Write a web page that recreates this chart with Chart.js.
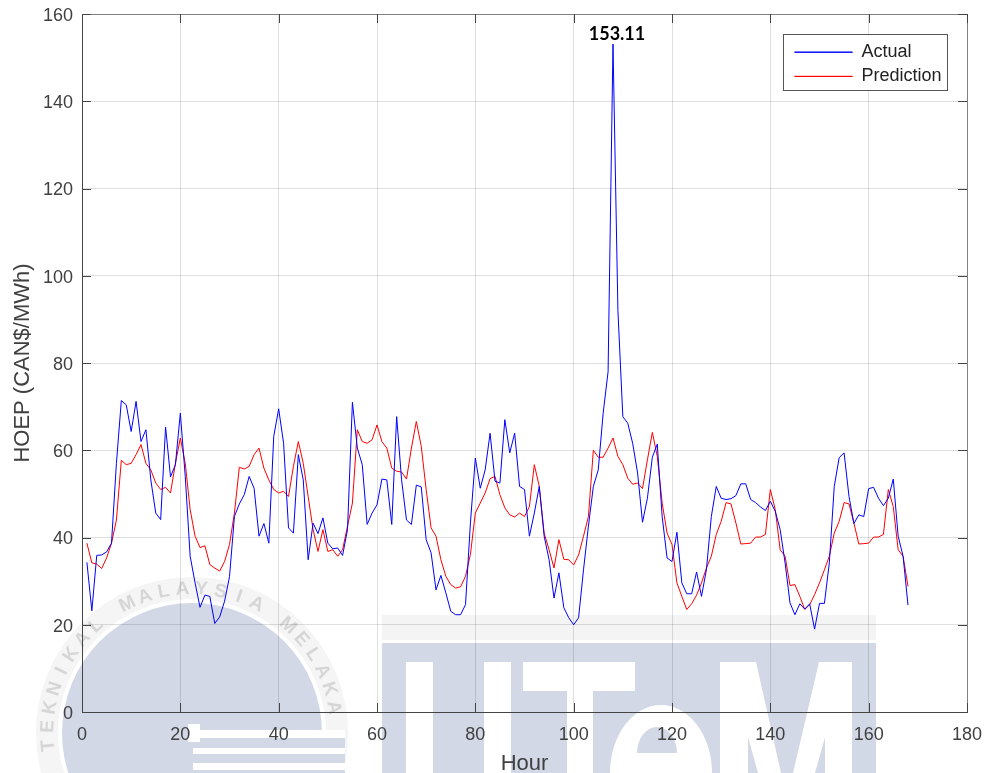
<!DOCTYPE html>
<html>
<head>
<meta charset="utf-8">
<title>HOEP</title>
<style>
  html, body { margin: 0; padding: 0; background: #fff; }
  canvas { display: block; }
</style>
<script src="https://cdn.jsdelivr.net/npm/chart.js@4/dist/chart.umd.min.js"></script>
</head>
<body>
<canvas id="chart" width="985" height="773"></canvas>
<script>
const actual = [
  34.3, 23.2, 35.9, 36, 36.7, 38.7, 57, 71.4, 70.4, 64.3,
  71.2, 62, 64.7, 53.2, 45.6, 44.1, 65.3, 53.9, 56.7, 68.5,
  54, 35.7, 29.6, 24, 26.8, 26.5, 20.3, 21.8, 25.4, 31,
  44.8, 47.7, 49.8, 54, 51.3, 40.3, 43.2, 38.7, 63.2, 69.5,
  61.6, 42.2, 41, 59, 53.2, 34.9, 43.3, 40.9, 44.5, 38.7,
  37.4, 37.6, 35.9, 41.8, 71, 60.5, 56.7, 43, 45.6, 47.5,
  53.4, 53.2, 43, 67.7, 53.2, 44, 43, 52, 51.6, 39.5,
  36.5, 28, 31.3, 27.3, 23.1, 22.3, 22.3, 24.6, 43.3, 58.2,
  51.3, 55.5, 63.9, 52.9, 52.5, 67, 59.4, 63.9, 51.7, 51,
  40.3, 45.6, 51.7, 40.3, 34.9, 26.1, 31.9, 23.9, 21.6, 20,
  21.6, 32.6, 42.6, 51.7, 55.5, 68.5, 78, 153.11, 92, 67.7,
  66.2, 61.6, 54.8, 43.5, 49, 58.4, 61.4, 44.8, 35.3, 34.5,
  41.2, 29.6, 27.1, 27.1, 32.1, 26.5, 32.6, 44.8, 51.7, 49,
  48.7, 48.9, 49.6, 52.3, 52.3, 48.7, 48, 47, 46.2, 48.3,
  46, 41.8, 34.2, 25, 22.3, 24.8, 23.6, 24.8, 19, 24.9,
  24.9, 34.2, 51.7, 58.3, 59.4, 49.4, 43.2, 45.2, 44.8, 51.2,
  51.5, 49, 47.3, 49, 53.4, 40.3, 35.7, 24.5,
];
const prediction = [
  38.7, 34.2, 33.9, 32.9, 35.3, 38.7, 44, 57.7, 56.7, 57,
  59, 61.3, 57, 55.5, 52.5, 51, 51.5, 50.2, 57, 62.8,
  57, 46.4, 40.3, 37.7, 38.1, 33.8, 33, 32.3, 34.5, 38.4,
  45.6, 56.1, 55.7, 56.3, 59, 60.5, 55.9, 53.2, 51, 50.2,
  50.6, 49.4, 56.3, 62, 57, 49.4, 41.8, 36.8, 41.8, 36.8,
  37.2, 35.7, 37.2, 42.6, 47.9, 64.7, 62, 61.6, 62.4, 65.8,
  62, 60.5, 55.9, 55.2, 55, 53.4, 60.5, 66.6, 60.9, 51,
  42.2, 40.3, 34.9, 31.1, 29.2, 28.4, 28.7, 31.1, 36.1, 45.6,
  47.9, 50.2, 53.5, 54, 49.8, 46.8, 45.2, 44.7, 45.6, 44.8,
  47.1, 56.7, 51.7, 41, 37.2, 33, 39.5, 35, 34.9, 33.7,
  36, 40.3, 44.8, 60, 58.4, 58.4, 60.5, 62.8, 58.6, 56.7,
  53.6, 52.2, 52.5, 51.2, 57.8, 64.1, 58.6, 47.9, 41, 38.4,
  29.6, 26.5, 23.5, 24.8, 26.8, 29.6, 33, 35.7, 40.7, 43.7,
  48, 47.7, 43.3, 38.5, 38.6, 38.7, 40.1, 40.1, 40.7, 51,
  46.4, 37.2, 35.7, 29, 29.2, 26.5, 23.5, 24.6, 26.9, 29.6,
  32.6, 35.7, 41, 43.7, 48, 47.7, 43.3, 38.5, 38.6, 38.7,
  40.1, 40.1, 40.7, 51, 47.1, 37.2, 35.7, 28.8,
];
const hours = actual.map((_, i) => i + 1);
const peakHour = 108;
const peakValue = 153.11;
const peakLabel = '153.11';
const sealText = 'TEKNIKAL MALAYSIA MELAKA';

const TEXT = '#404040';
const PALE_BLUE = '#d3d8e6';
const FONT = '"Liberation Sans", Arial, sans-serif';

// university watermark behind the whole figure
function drawWatermark(ctx) {
  const cx = 192;
  const cy = 733;

  ctx.fillStyle = '#f5f5f6';
  ctx.beginPath();
  ctx.arc(cx, cy, 156, 0, Math.PI * 2);
  ctx.fill();
  ctx.fillStyle = '#fff';
  ctx.beginPath();
  ctx.arc(cx, cy, 134, 0, Math.PI * 2);
  ctx.fill();
  ctx.fillStyle = PALE_BLUE;
  ctx.beginPath();
  ctx.arc(cx, cy, 130, 0, Math.PI * 2);
  ctx.fill();

  ctx.fillStyle = '#d6d6d7';
  ctx.font = 'bold 19px ' + FONT;
  ctx.textAlign = 'center';
  ctx.textBaseline = 'middle';
  [...sealText].forEach((ch, i) => {
    const a = (-95 + i * 7.6) * Math.PI / 180;
    ctx.save();
    ctx.translate(cx + 144 * Math.sin(a), cy - 144 * Math.cos(a));
    ctx.rotate(a);
    ctx.fillText(ch, 0, 0);
    ctx.restore();
  });

  ctx.fillStyle = PALE_BLUE;
  ctx.fillRect(193, 738, 152, 35);
  ctx.fillStyle = '#fff';
  ctx.fillRect(188, 724, 12, 18);
  ctx.fillRect(193, 730, 152, 8);
  ctx.fillRect(193, 748, 152, 6);
  ctx.fillRect(193, 763, 152, 7);

  ctx.fillStyle = '#f4f4f5';
  ctx.fillRect(382, 615, 494, 25);
  ctx.fillStyle = PALE_BLUE;
  ctx.fillRect(382, 643, 494, 130);

  ctx.fillStyle = '#fff';
  ctx.fillRect(406, 662, 27, 111);
  ctx.fillRect(484, 662, 27, 111);
  ctx.fillRect(523, 662, 112, 29);
  ctx.fillRect(567, 691, 26, 82);
  ctx.beginPath();
  ctx.ellipse(661, 773, 51, 68, 0, 0, Math.PI * 2);
  ctx.fill();
  ctx.fillRect(720, 662, 132, 111);

  ctx.fillStyle = PALE_BLUE;
  ctx.beginPath();
  ctx.ellipse(657, 753, 20, 26, 0, Math.PI, Math.PI * 2);
  ctx.fill();
  ctx.beginPath();
  ctx.moveTo(756, 662);
  ctx.lineTo(819, 662);
  ctx.lineTo(793, 773);
  ctx.lineTo(781, 773);
  ctx.closePath();
  ctx.fill();
  ctx.beginPath();
  ctx.moveTo(748, 737);
  ctx.lineTo(758, 773);
  ctx.lineTo(748, 773);
  ctx.closePath();
  ctx.fill();
  ctx.beginPath();
  ctx.moveTo(825, 737);
  ctx.lineTo(825, 773);
  ctx.lineTo(815, 773);
  ctx.closePath();
  ctx.fill();
}

const figurePlugin = {
  id: 'figure',
  beforeDraw(chart) {
    const ctx = chart.ctx;
    ctx.save();
    ctx.fillStyle = '#fff';
    ctx.fillRect(0, 0, chart.width, chart.height);
    drawWatermark(ctx);
    ctx.restore();
  },
  afterLayout(chart) {
    // y tick labels sit a little below their grid lines in the original
    chart.scales.y.getLabelItems().forEach((item) => {
      item.options.translation[1] += 2;
    });

    // the legend sits in the top right corner with a white, framed box
    const legend = chart.legend;
    legend.left = 788.3;
    legend.right = legend.left + legend.width;
    legend.top = 37;
    legend.bottom = legend.top + legend.height;
    if (!legend.framed) {
      const drawLegend = legend.draw;
      legend.draw = function () {
        const ctx = chart.ctx;
        ctx.save();
        ctx.fillStyle = '#fff';
        ctx.fillRect(783.5, 34.5, 164, 56);
        ctx.strokeStyle = '#555';
        ctx.lineWidth = 1;
        ctx.strokeRect(783.5, 34.5, 164, 56);
        ctx.restore();
        drawLegend.call(this);
      };
      legend.framed = true;
    }
  },
  afterDatasetsDraw(chart) {
    const ctx = chart.ctx;
    const { left, right, top, bottom } = chart.chartArea;
    const { x, y } = chart.scales;

    ctx.save();
    // top and right edges of the box
    ctx.strokeStyle = '#808080';
    ctx.lineWidth = 1;
    ctx.beginPath();
    ctx.moveTo(left, top + 0.5);
    ctx.lineTo(right + 0.5, top + 0.5);
    ctx.lineTo(right + 0.5, bottom);
    ctx.stroke();

    // inward ticks on all four sides
    ctx.strokeStyle = '#444';
    ctx.beginPath();
    x.ticks.forEach((t) => {
      const px = Math.round(x.getPixelForValue(t.value)) + 0.5;
      ctx.moveTo(px, bottom);
      ctx.lineTo(px, bottom - 9);
      ctx.moveTo(px, top);
      ctx.lineTo(px, top + 9);
    });
    y.ticks.forEach((t) => {
      const py = Math.round(y.getPixelForValue(t.value)) + 0.5;
      ctx.moveTo(left, py);
      ctx.lineTo(left + 9, py);
      ctx.moveTo(right, py);
      ctx.lineTo(right - 9, py);
    });
    ctx.stroke();

    ctx.fillStyle = '#000';
    ctx.font = 'bold 18px Lato, sans-serif';
    ctx.textAlign = 'center';
    ctx.textBaseline = 'middle';
    ctx.fillText(peakLabel, x.getPixelForValue(peakHour) + 4, y.getPixelForValue(peakValue) - 10);
    ctx.restore();
  },
};

new Chart(document.getElementById('chart'), {
  type: 'line',
  data: {
    labels: hours,
    datasets: [
      {
        label: 'Actual',
        data: hours.map((h, i) => ({ x: h, y: actual[i] })),
        borderColor: '#0000ff',
        backgroundColor: '#0000ff',
        borderWidth: 1,
        pointRadius: 0,
        tension: 0,
      },
      {
        label: 'Prediction',
        data: hours.map((h, i) => ({ x: h, y: prediction[i] })),
        borderColor: '#ff0000',
        backgroundColor: '#ff0000',
        borderWidth: 1,
        pointRadius: 0,
        tension: 0,
      },
    ],
  },
  options: {
    responsive: false,
    animation: false,
    layout: { padding: { top: 14, right: 18, left: 0, bottom: 0 } },
    plugins: {
      tooltip: { enabled: false },
      legend: {
        position: 'chartArea',
        align: 'start',
        labels: {
          boxWidth: 58,
          boxHeight: 0,
          padding: 6.2,
          color: '#222',
          font: { family: FONT, size: 18 },
        },
      },
    },
    scales: {
      x: {
        type: 'linear',
        min: 0,
        max: 180,
        afterFit: (s) => {
          s.height = 61;
          s.paddingLeft = 0;
          s.paddingRight = 0;
        },
        border: { color: '#444', width: 1 },
        grid: { color: 'rgba(38,38,38,0.15)', drawTicks: false },
        ticks: {
          stepSize: 20,
          maxRotation: 0,
          padding: 12,
          color: TEXT,
          font: { family: FONT, size: 18 },
        },
        title: {
          display: true,
          text: 'Hour',
          color: TEXT,
          padding: { top: 0, bottom: -2 },
          font: { family: FONT, size: 22, lineHeight: 1 },
        },
      },
      y: {
        min: 0,
        max: 160,
        afterFit: (s) => {
          s.width = 82;
          s.paddingTop = 0;
          s.paddingBottom = 0;
        },
        border: { color: '#444', width: 1 },
        grid: { color: 'rgba(38,38,38,0.15)', drawTicks: false },
        ticks: {
          stepSize: 20,
          padding: 9,
          color: TEXT,
          font: { family: FONT, size: 18 },
        },
        title: {
          display: true,
          text: 'HOEP (CAN$/MWh)',
          color: TEXT,
          padding: { top: 12, bottom: 0 },
          font: { family: FONT, size: 22, lineHeight: 1 },
        },
      },
    },
  },
  plugins: [figurePlugin],
});
</script>
</body>
</html>
